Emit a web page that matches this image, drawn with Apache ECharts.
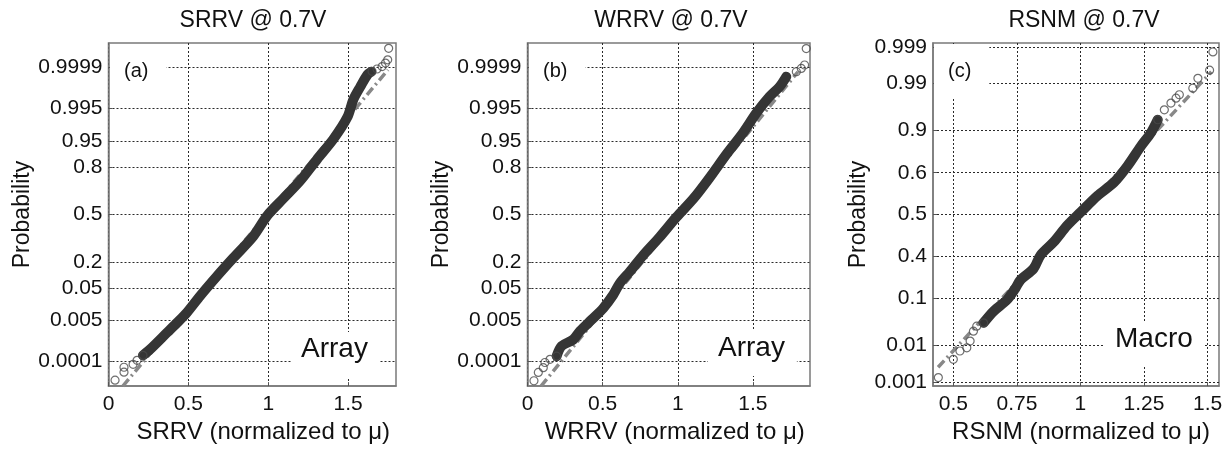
<!DOCTYPE html>
<html>
<head>
<meta charset="utf-8">
<script src="https://cdn.jsdelivr.net/npm/echarts@6/dist/echarts.min.js"></script>
<style>
  html, body { margin: 0; padding: 0; background: #fff; }
  #chart { width: 1229px; height: 449px; }
</style>
</head>
<body>
<div id="chart"></div>
<script>
// ---- Probability-paper tick positions (y is the plotting position on normal paper) ----
const probLabelsArray = ['0.0001', '0.005', '0.05', '0.2', '0.5', '0.8', '0.95', '0.995', '0.9999'];
const probPosArray    = [-3.7, -2.675, -1.85, -1.2, 0, 1.2, 1.85, 2.675, 3.71];
const probLabelsMacro = ['0.001', '0.01', '0.1', '0.4', '0.5', '0.6', '0.9', '0.99', '0.999'];
const probPosMacro    = [-4.23, -3.3, -2.11, -1.06, 0, 1.055, 2.13, 3.3, 4.22];

const xTicksArray = [0, 0.5, 1, 1.5];
const xTicksMacro = [0.5, 0.75, 1, 1.25, 1.5];

// ---- (a) SRRV @ 0.7V ----
const srrvBandX = [0.216, 0.26, 0.367, 0.43, 0.49, 0.574, 0.68, 0.78, 0.906, 0.994, 1.094, 1.2, 1.307, 1.408, 1.495, 1.533, 1.577, 1.621, 1.645];
const srrvBandP = [-3.55, -3.4, -2.975, -2.725, -2.475, -2.05, -1.55, -1.1, -0.55, -0.025, 0.4, 0.85, 1.4, 1.9, 2.45, 2.9, 3.225, 3.525, 3.6];
const srrvTailX = [0.041, 0.097, 0.097, 0.154, 0.179, 0.216, 1.650, 1.681, 1.713, 1.734, 1.748, 1.754];
const srrvTailP = [-4.175, -3.975, -3.85, -3.775, -3.675, -3.55, 3.61, 3.67, 3.73, 3.82, 3.9, 4.19];
const srrvFitX = [0.09, 1.75];
const srrvFitP = [-4.325, 3.65];

// ---- (b) WRRV @ 0.7V ----
const wrrvBandX = [0.194, 0.227, 0.305, 0.349, 0.427, 0.504, 0.57, 0.615, 0.681, 0.77, 0.88, 0.991, 1.102, 1.213, 1.324, 1.434, 1.523, 1.611, 1.678, 1.722];
const wrrvBandP = [-3.57, -3.315, -3.15, -2.94, -2.65, -2.36, -2.025, -1.73, -1.44, -1.025, -0.565, -0.065, 0.39, 0.935, 1.52, 2.06, 2.56, 2.975, 3.225, 3.475];
const wrrvTailX = [0.043, 0.072, 0.105, 0.116, 0.15, 0.194, 1.789, 1.822, 1.844, 1.855];
const wrrvTailP = [-4.19, -3.98, -3.86, -3.73, -3.65, -3.57, 3.6, 3.685, 3.77, 4.185];
const wrrvFitX = [0.09, 1.80];
const wrrvFitP = [-4.325, 3.6];

// ---- (c) RSNM @ 0.7V ----
const rsnmBandX = [0.619, 0.658, 0.711, 0.744, 0.764, 0.816, 0.843, 0.895, 0.948, 1.001, 1.067, 1.132, 1.185, 1.238, 1.277, 1.304];
const rsnmBandP = [-2.73, -2.44, -2.15, -1.86, -1.65, -1.36, -1.025, -0.69, -0.275, 0.06, 0.475, 0.81, 1.225, 1.725, 2.06, 2.39];
const rsnmTailX = [0.441, 0.5, 0.526, 0.553, 0.566, 0.579, 0.592, 0.619, 1.304, 1.33, 1.356, 1.376, 1.389, 1.442, 1.462, 1.508, 1.521];
const rsnmTailP = [-4.11, -3.65, -3.44, -3.36, -3.19, -2.94, -2.815, -2.73, 2.39, 2.64, 2.81, 2.935, 3.02, 3.185, 3.435, 3.64, 4.1];
const rsnmFitX = [0.44, 1.515];
const rsnmFitP = [-3.85, 3.6];

const FONT = 'Liberation Sans, Arial, Helvetica, sans-serif';
const zip = (xs, ys) => xs.map((x, i) => [x, ys[i]]);

const panels = [
  { title: 'SRRV @ 0.7V', xName: 'SRRV (normalized to \u03bc)', tag: '(a)', note: 'Array',
    grid: { left: 108.5, top: 43, width: 287.5, height: 346 },
    xMin: 0, xMax: 1.8, xTicks: xTicksArray, probPos: probPosArray, probLabels: probLabelsArray,
    yNameGap: 73, xNameShift: 22,
    band: zip(srrvBandX, srrvBandP), tail: zip(srrvTailX, srrvTailP), fit: zip(srrvFitX, srrvFitP),
    titleX: 253, tagBox: { x: 110, y: 44 }, noteBox: { x: 291, y: 332 } },
  { title: 'WRRV @ 0.7V', xName: 'WRRV (normalized to \u03bc)', tag: '(b)', note: 'Array',
    grid: { left: 527.5, top: 43, width: 282.5, height: 346 },
    xMin: 0, xMax: 1.88, xTicks: xTicksArray, probPos: probPosArray, probLabels: probLabelsArray,
    yNameGap: 72, xNameShift: 12,
    band: zip(wrrvBandX, wrrvBandP), tail: zip(wrrvTailX, wrrvTailP), fit: zip(wrrvFitX, wrrvFitP),
    titleX: 671, tagBox: { x: 529, y: 44 }, noteBox: { x: 708, y: 331 } },
  { title: 'RSNM @ 0.7V', xName: 'RSNM (normalized to \u03bc)', tag: '(c)', note: 'Macro',
    grid: { left: 933, top: 43, width: 286, height: 346 },
    xMin: 0.42, xMax: 1.545, xTicks: xTicksMacro, probPos: probPosMacro, probLabels: probLabelsMacro,
    yNameGap: 63, xNameShift: 10,
    band: zip(rsnmBandX, rsnmBandP), tail: zip(rsnmTailX, rsnmTailP), fit: zip(rsnmFitX, rsnmFitP),
    titleX: 1084, tagBox: { x: 934, y: 44 }, noteBox: { x: 1105, y: 322 } }
];

const grids = [], xAxes = [], yAxes = [], series = [], graphics = [];

panels.forEach((p, i) => {
  grids.push(Object.assign({ show: true, borderColor: '#7a7a7a', borderWidth: 1.5, backgroundColor: '#fff' }, p.grid));

  xAxes.push({
    gridIndex: i, type: 'value', min: p.xMin, max: p.xMax,
    axisLine: { show: true, onZero: false, lineStyle: { color: '#7a7a7a', width: 1.5 } },
    axisTick: { show: true, inside: true, length: 4, customValues: p.xTicks, lineStyle: { color: '#555' } },
    axisLabel: { customValues: p.xTicks, margin: 8, color: '#111', fontSize: 21, fontFamily: FONT,
                 formatter: v => String(v) },
    splitLine: { show: true, lineStyle: { color: '#2a2a2a', width: 1, type: [2, 2] } },
    name: p.xName, nameLocation: 'middle', nameGap: 31,
    nameTextStyle: { color: '#111', fontSize: 24, fontFamily: FONT, padding: [0, 0, 0, p.xNameShift] }
  });

  yAxes.push({
    gridIndex: i, type: 'value', min: -4.325, max: 4.325,
    axisLine: { show: true, onZero: false, lineStyle: { color: '#7a7a7a', width: 1.5 } },
    axisTick: { show: true, inside: true, length: 4, customValues: p.probPos, lineStyle: { color: '#555' } },
    axisLabel: {
      customValues: p.probPos, margin: 6, color: '#111', fontSize: 21, fontFamily: FONT,
      formatter: v => {
        let best = 0;
        p.probPos.forEach((q, k) => { if (Math.abs(q - v) < Math.abs(p.probPos[best] - v)) best = k; });
        return p.probLabels[best];
      }
    },
    splitLine: { show: true, lineStyle: { color: '#2a2a2a', width: 1, type: [2, 2] } },
    name: 'Probability', nameLocation: 'middle', nameGap: p.yNameGap, nameRotate: 90,
    nameTextStyle: { color: '#111', fontSize: 23, fontFamily: FONT }
  });

  // fitted normal reference line (dash-dot)
  series.push({
    type: 'line', xAxisIndex: i, yAxisIndex: i, data: p.fit, showSymbol: false, z: 2,
    lineStyle: { color: '#888', width: 3.5, type: [9, 4, 2, 4] }, silent: true
  });
  // dense run of samples, rendered as a thick trace
  series.push({
    type: 'line', xAxisIndex: i, yAxisIndex: i, data: p.band, showSymbol: false, smooth: 0.3, z: 3,
    lineStyle: { color: '#353535', width: 10, cap: 'round', join: 'round' }, silent: true
  });
  // sparse tail samples, drawn as open circles
  series.push({
    type: 'scatter', xAxisIndex: i, yAxisIndex: i, data: p.tail, symbol: 'circle', symbolSize: 8, z: 4,
    itemStyle: { color: 'rgba(0,0,0,0)', borderColor: '#4a4a4a', borderWidth: 1.2 }, silent: true
  });

  graphics.push({
    type: 'text', x: p.titleX, y: 21, z: 20,
    style: { text: p.title, fill: '#111', font: '23px ' + FONT, align: 'center', verticalAlign: 'middle' }
  });
  graphics.push({
    type: 'text', x: p.tagBox.x, y: p.tagBox.y, z: 20,
    style: { text: p.tag, fill: '#111', font: '20px ' + FONT, align: 'left', verticalAlign: 'top',
             backgroundColor: '#fff', padding: [17, 18, 16, 14] }
  });
  graphics.push({
    type: 'text', x: p.noteBox.x, y: p.noteBox.y, z: 20,
    style: { text: p.note, fill: '#111', font: '28px ' + FONT, align: 'left', verticalAlign: 'top',
             backgroundColor: '#fff', padding: [3, 12, 14, 10] }
  });
});

const chart = echarts.init(document.getElementById('chart'), null, { renderer: 'canvas' });
chart.setOption({
  animation: false,
  backgroundColor: '#fff',
  grid: grids,
  xAxis: xAxes,
  yAxis: yAxes,
  series: series,
  graphic: graphics
});
</script>
</body>
</html>
